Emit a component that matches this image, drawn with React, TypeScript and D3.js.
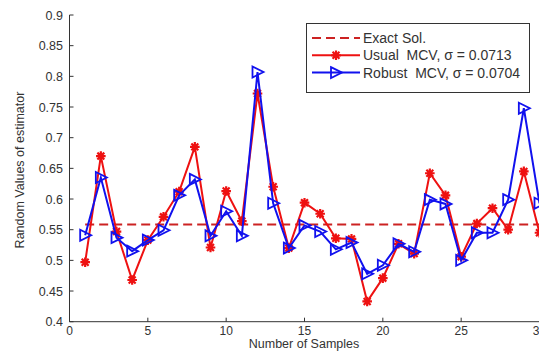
import React from "react"
import * as d3 from "d3"

const samples = d3.range(1, 31)
const exactSol = 0.5586
const usualMCV = [
  0.497, 0.670, 0.547, 0.468, 0.533, 0.571, 0.612, 0.685, 0.521, 0.613,
  0.564, 0.772, 0.620, 0.520, 0.594, 0.576, 0.536, 0.535, 0.433, 0.471,
  0.527, 0.511, 0.642, 0.606, 0.506, 0.560, 0.585, 0.550, 0.645, 0.545,
]
const robustMCV = [
  0.541, 0.635, 0.537, 0.515, 0.533, 0.549, 0.606, 0.632, 0.540, 0.580,
  0.540, 0.807, 0.593, 0.520, 0.557, 0.547, 0.518, 0.529, 0.478, 0.492,
  0.527, 0.514, 0.599, 0.592, 0.500, 0.545, 0.545, 0.599, 0.748, 0.593,
]
const xTicks = [0, 5, 10, 15, 20, 25, 30]
const yTicks = [0.4, 0.45, 0.5, 0.55, 0.6, 0.65, 0.7, 0.75, 0.8, 0.85, 0.9]
const legendLabels = ["Exact Sol.", "Usual  MCV, \u03c3 = 0.0713", "Robust  MCV, \u03c3 = 0.0704"]

const W = 539
const H = 351
const RED = "#ee1111"
const BLUE = "#1111ee"
const font = "'Liberation Sans', Arial, sans-serif"

const star = (cx: number, cy: number, r = 4.8) => {
  const d = r * 0.72
  return `M${cx - r},${cy}L${cx + r},${cy}M${cx},${cy - r}L${cx},${cy + r}` +
    `M${cx - d},${cy - d}L${cx + d},${cy + d}M${cx - d},${cy + d}L${cx + d},${cy - d}`
}
const tri = (cx: number, cy: number) =>
  `M${cx - 5},${cy - 5.5}L${cx + 6},${cy}L${cx - 5},${cy + 5.5}Z`

export default function App() {
  const x = d3.scaleLinear().domain([0, 30]).range([69.5, 539.5])
  const y = d3.scaleLinear().domain([0.4, 0.9]).range([321.7, 15])

  const line = d3.line<number>().x((_, i) => x(samples[i])).y(d => y(d))

  return (
    <div style={{ position: "absolute", left: 0, top: 0 }}>
      <svg width={W} height={H} style={{ display: "block", background: "#fff" }}>
        {/* axes */}
        <path d={`M${x(0)},${y(0.9)}V${y(0.4)}H${W}`} fill="none" stroke="#333" strokeWidth={1} />
        {xTicks.map(t => (
          <g key={"x" + t}>
            <line x1={x(t)} x2={x(t)} y1={y(0.4)} y2={y(0.4) - 4} stroke="#333" />
            <text x={x(t)} y={335} textAnchor="middle" fontFamily={font} fontSize={12} fill="#333">{t}</text>
          </g>
        ))}
        {yTicks.map(t => (
          <g key={"y" + t}>
            <line x1={x(0)} x2={x(0) + 4} y1={y(t)} y2={y(t)} stroke="#333" />
            <text x={63} y={y(t) + 4.5} textAnchor="end" fontFamily={font} fontSize={12.5} fill="#333">{t}</text>
          </g>
        ))}
        <text x={304} y={347.5} textAnchor="middle" fontFamily={font} fontSize={12.5} fill="#333">Number of Samples</text>
        <text transform={`translate(24,170) rotate(-90)`} textAnchor="middle" fontFamily={font} fontSize={12.5} fill="#333">
          Random Values of estimator
        </text>

        {/* exact solution */}
        <line x1={x(1)} x2={W} y1={y(exactSol)} y2={y(exactSol)} stroke="#cc2222" strokeWidth={2} strokeDasharray="9,5" />

        {/* usual MCV */}
        <path d={line(usualMCV) || ""} fill="none" stroke={RED} strokeWidth={2} />
        {usualMCV.map((v, i) => (
          <path key={"u" + i} d={star(x(samples[i]), y(v))} stroke={RED} strokeWidth={2.2} fill="none" />
        ))}

        {/* robust MCV */}
        <path d={line(robustMCV) || ""} fill="none" stroke={BLUE} strokeWidth={2} />
        {robustMCV.map((v, i) => (
          <path key={"r" + i} d={tri(x(samples[i]), y(v))} stroke={BLUE} strokeWidth={1.8} fill="none" />
        ))}

        {/* legend */}
        <rect x={306.5} y={23.5} width={223} height={69} fill="#fff" stroke="#333" strokeWidth={1} />
        {legendLabels.map((lab, i) => {
          const ly = 38 + i * 17.3
          return (
            <g key={lab}>
              {i === 0 && <line x1={312} x2={360} y1={ly} y2={ly} stroke="#cc2222" strokeWidth={2} strokeDasharray="9,5" />}
              {i === 1 && <>
                <line x1={312} x2={360} y1={ly} y2={ly} stroke={RED} strokeWidth={2} />
                <path d={star(336, ly)} stroke={RED} strokeWidth={2.2} fill="none" />
              </>}
              {i === 2 && <>
                <line x1={312} x2={360} y1={ly} y2={ly} stroke={BLUE} strokeWidth={2} />
                <path d={tri(336, ly)} stroke={BLUE} strokeWidth={1.8} fill="none" />
              </>}
              <text x={363} y={ly + 5} fontFamily={font} fontSize={14} fill="#333" style={{ whiteSpace: "pre" }}>{lab}</text>
            </g>
          )
        })}
      </svg>
    </div>
  )
}
